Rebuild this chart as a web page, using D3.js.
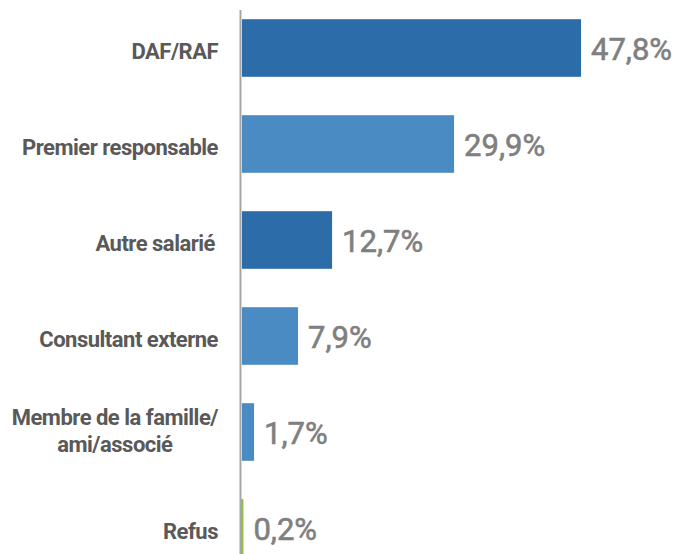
<!DOCTYPE html>
<html>
<head>
<meta charset="utf-8">
<script src="https://cdn.jsdelivr.net/npm/d3@7"></script>
<style>
  html, body { margin: 0; padding: 0; background: #fff; overflow: hidden; }
  .cat { font-family: Roboto, "Noto Sans", sans-serif; font-weight: bold; font-size: 22px; fill: #595959; letter-spacing: -0.5px; }
  .val { font-family: Roboto, "Noto Sans", sans-serif; font-weight: 400; font-size: 31px; fill: #7f7f7f; stroke: #7f7f7f; stroke-width: 0.6px; }
</style>
</head>
<body>
<div id="chart"></div>
<script>
// données
var categories = ['DAF/RAF', 'Premier responsable', 'Autre salarié', 'Consultant externe', 'Membre de la famille/\nami/associé', 'Refus'];
var values = [47.8, 29.9, 12.7, 7.9, 1.7, 0.2];
var valueLabels = ['47,8%', '29,9%', '12,7%', '7,9%', '1,7%', '0,2%'];
var barColors = ['#2b6ca9', '#4a8bc3', '#2b6ca9', '#4a8bc3', '#4a8bc3', '#8cc13f'];

var width = 677, height = 554;

var svg = d3.select('#chart')
    .append('svg')
    .attr('width', width)
    .attr('height', height);

var xScale = d3.scaleLinear().domain([0, d3.max(values)]).range([242, 581]);
var yScale = d3.scaleBand().domain(categories).range([0, 576]).paddingInner(0.4).paddingOuter(0.2);

var data = categories.map(function(c, i) {
    return { cat: c, value: values[i], label: valueLabels[i], color: barColors[i] };
});

// barres
svg.selectAll('rect.bar')
    .data(data)
    .enter().append('rect')
    .attr('class', 'bar')
    .attr('x', xScale(0))
    .attr('y', function(d) { return yScale(d.cat); })
    .attr('width', function(d) { return xScale(d.value) - xScale(0); })
    .attr('height', yScale.bandwidth())
    .attr('fill', function(d) { return d.color; });

// axe vertical
svg.append('line')
    .attr('x1', 240.5).attr('x2', 240.5)
    .attr('y1', 10).attr('y2', height)
    .attr('stroke', '#a6a6a6')
    .attr('stroke-width', 2);

// redessine la barre verte par-dessus l'axe
svg.append('rect')
    .attr('x', 241)
    .attr('y', yScale('Refus'))
    .attr('width', 2)
    .attr('height', yScale.bandwidth())
    .attr('fill', barColors[5]);

// valeurs
svg.selectAll('text.val')
    .data(data)
    .enter().append('text')
    .attr('class', 'val')
    .attr('x', function(d) { return xScale(d.value) + 10; })
    .attr('y', function(d) { return yScale(d.cat) + yScale.bandwidth() / 2 + 12; })
    .text(function(d) { return d.label; });

// libellés des catégories
data.forEach(function(d) {
    var lines = d.cat.split('\n');
    var cy = yScale(d.cat) + yScale.bandwidth() / 2;
    var right = d.cat === 'Autre salarié' ? 215 : 218;
    if (lines.length === 1) {
        svg.append('text')
            .attr('class', 'cat')
            .attr('x', right)
            .attr('y', cy + 11)
            .attr('text-anchor', 'end')
            .text(lines[0]);
    } else {
        var first = svg.append('text')
            .attr('class', 'cat')
            .attr('x', right)
            .attr('y', cy - 7)
            .attr('text-anchor', 'end')
            .text(lines[0]);
        var w = first.node().getComputedTextLength();
        svg.append('text')
            .attr('class', 'cat')
            .attr('x', right - w / 2)
            .attr('y', cy + 20)
            .attr('text-anchor', 'middle')
            .text(lines[1]);
    }
});
</script>
</body>
</html>
